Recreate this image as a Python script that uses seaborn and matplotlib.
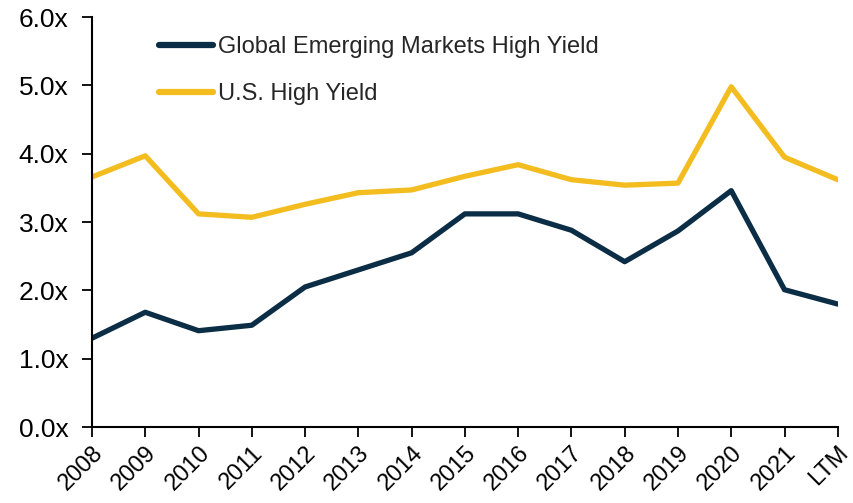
import matplotlib.pyplot as plt
import pandas as pd
import seaborn as sns

years = ['2008', '2009', '2010', '2011', '2012', '2013', '2014', '2015',
         '2016', '2017', '2018', '2019', '2020', '2021', 'LTM']
em_hy = [1.30, 1.68, 1.41, 1.49, 2.05, 2.30, 2.55, 3.12, 3.12, 2.88,
         2.42, 2.87, 3.46, 2.01, 1.80]
us_hy = [3.66, 3.97, 3.12, 3.07, 3.26, 3.43, 3.47, 3.67, 3.84, 3.62,
         3.54, 3.57, 4.98, 3.95, 3.62]
series_names = ['Global Emerging Markets High Yield', 'U.S. High Yield']

df = pd.DataFrame({'year': years * 2,
                   'value': em_hy + us_hy,
                   'series': [series_names[0]] * len(years) + [series_names[1]] * len(years)})
df['x'] = list(range(len(years))) * 2

sns.set_style('ticks')
plt.rcParams['font.family'] = ['Liberation Sans', 'DejaVu Sans']

fig = plt.figure(figsize=(8.54, 5.03), dpi=100)
ax = fig.add_axes([0.1077, 0.151, 0.8733, 0.815])

palette = {series_names[0]: '#0B2D45', series_names[1]: '#F3BC1F'}
sns.lineplot(data=df, x='x', y='value', hue='series', palette=palette,
             linewidth=3.8, ax=ax, sort=False)

ax.set_xlim(0, len(years) - 1)
ax.set_ylim(0, 6)
ax.set_xticks(range(len(years)))
ax.set_xticklabels(years, rotation=45, ha='right', va='top',
                   rotation_mode='anchor', fontsize=17)
ax.set_yticks([0, 1, 2, 3, 4, 5, 6])
ax.set_yticklabels([f'{v:.1f}x' for v in range(7)], fontsize=19)
ax.set_xlabel('')
ax.set_ylabel('')
ax.tick_params(axis='both', direction='out', length=7, width=1.3, colors='black')
ax.tick_params(axis='y', pad=10)
for s in ['top', 'right']:
    ax.spines[s].set_visible(False)
for s in ['left', 'bottom']:
    ax.spines[s].set_linewidth(1.5)
    ax.spines[s].set_color('black')

leg = ax.legend(loc='upper left', bbox_to_anchor=(0.09, 0.953), frameon=False,
                fontsize=17, handlelength=2.3, handletextpad=0.2,
                labelspacing=1.05, borderaxespad=0, borderpad=0)
for line in leg.get_lines():
    line.set_linewidth(4.5)
    line.set_solid_capstyle('round')

fig.savefig('out.png', dpi=100)
